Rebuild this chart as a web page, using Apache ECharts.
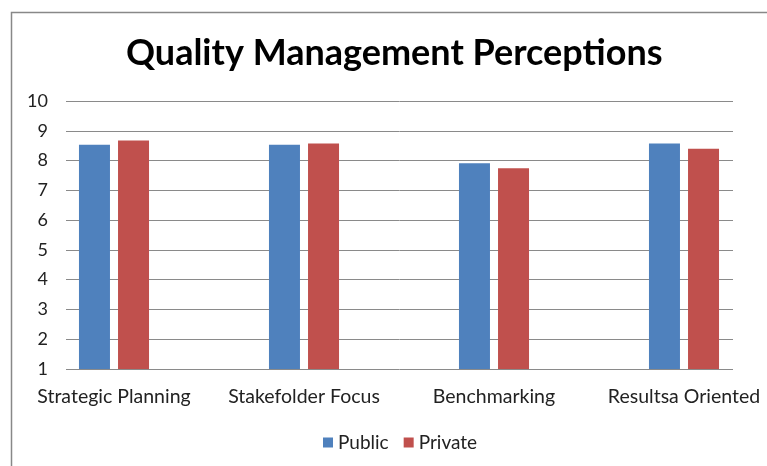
<!DOCTYPE html>
<html><head><meta charset="utf-8">
<script src="https://cdn.jsdelivr.net/npm/echarts@6/dist/echarts.min.js"></script>
<style>html,body{margin:0;padding:0;background:#fff}#c{width:767px;height:466px}</style>
</head><body><div id="c"></div>
<script>
const categories = ['Strategic Planning', 'Stakefolder Focus', 'Benchmarking', 'Resultsa Oriented'];
const publicValues = [8.53, 8.53, 7.91, 8.57];
const privateValues = [8.67, 8.57, 7.74, 8.40];
const seriesNames = ['Public', 'Private'];
const FONT = 'Lato, "Open Sans", sans-serif';
const chart = echarts.init(document.getElementById('c'), null, {renderer: 'canvas'});
chart.setOption({
  animation: false,
  backgroundColor: '#fff',
  title: {
    text: 'Quality Management Perceptions', left: 121, top: 30,
    textStyle: {fontFamily: FONT, fontWeight: 'bold', fontSize: 36, color: '#000'}
  },
  legend: {
    data: seriesNames, left: 318, top: 428, icon: 'rect', itemWidth: 10, itemHeight: 10, itemGap: 15,
    textStyle: {fontFamily: FONT, fontSize: 19, color: '#222'}
  },
  graphic: [{
    type: 'rect', silent: true, z: -1,
    shape: {x: 11.5, y: 12.5, width: 800, height: 500},
    style: {fill: 'none', stroke: '#888', lineWidth: 1.5}
  }],
  grid: [
    {left: 66, right: 34, top: 101, bottom: 97, outerBoundsMode: 'none'},
    {left: 19, width: 760, top: 101, bottom: 97, outerBoundsMode: 'none'}
  ],
  xAxis: [
    {type: 'value', gridIndex: 0, show: false, min: 0, max: 1},
    {type: 'category', gridIndex: 1, data: categories,
     axisLine: {show: false}, axisTick: {show: false},
     axisLabel: {fontFamily: FONT, fontSize: 19.5, color: '#222', margin: 18, interval: 0}}
  ],
  yAxis: [
    {type: 'value', gridIndex: 0, min: 1, max: 10, interval: 1,
     axisLine: {show: false}, axisTick: {show: false},
     axisLabel: {fontFamily: FONT, fontSize: 18, color: '#222', margin: 18},
     splitLine: {lineStyle: {color: '#8a8a8a', width: 1}}},
    {type: 'value', gridIndex: 1, min: 1, max: 10, show: false, splitLine: {show: false}}
  ],
  series: [
    {name: seriesNames[0], type: 'bar', xAxisIndex: 1, yAxisIndex: 1, data: publicValues,
     barWidth: 31, barGap: '26%', itemStyle: {color: '#4f81bd'}},
    {name: seriesNames[1], type: 'bar', xAxisIndex: 1, yAxisIndex: 1, data: privateValues,
     barWidth: 31, barGap: '26%', itemStyle: {color: '#c0504d'}}
  ]
});
</script></body></html>
